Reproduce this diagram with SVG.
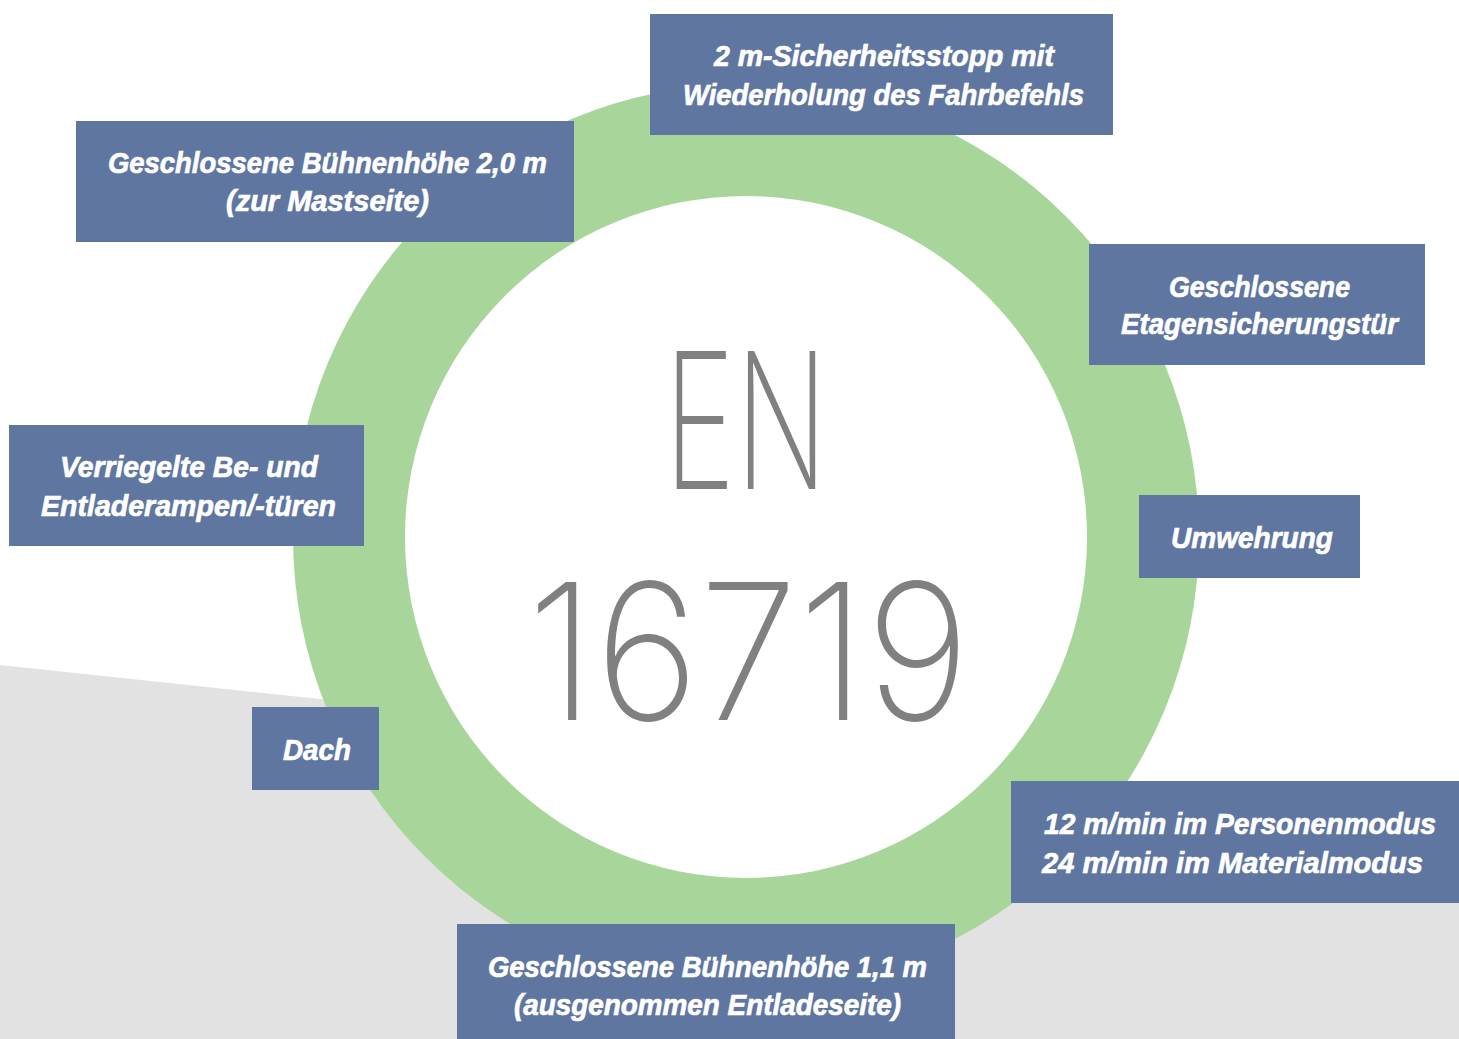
<svg xmlns="http://www.w3.org/2000/svg" width="1459" height="1039" viewBox="0 0 1459 1039">
<style>
.box{fill:#5f76a1}
.lbl{fill:#ffffff;stroke:#ffffff;stroke-width:0.7px;font-family:"Liberation Sans",Arial,sans-serif;font-weight:bold;font-style:italic;font-size:30px;text-anchor:start}
.big{fill:#808080;font-family:Inter,Roboto,"Liberation Sans",sans-serif;font-weight:250;font-size:190px}
</style>
<rect x="0" y="0" width="1459" height="1039" fill="#ffffff"/>
<polygon points="0,665 1459,820 1459,1039 0,1039" fill="#e2e2e2"/>
<g id="ring">
<circle cx="746" cy="537" r="453" fill="#a8d59a"/>
<circle cx="746" cy="537" r="341" fill="#ffffff"/>
<text class="big" x="664" y="489" textLength="164" lengthAdjust="spacingAndGlyphs">EN</text>
<text class="big" x="527" y="720" textLength="443" lengthAdjust="spacingAndGlyphs">16719</text>
</g>
<g id="connectors"></g>
<g id="n1"><rect class="box" x="650" y="14" width="463" height="121"/>
<text class="lbl" x="714" y="66" textLength="340" lengthAdjust="spacingAndGlyphs">2 m-Sicherheitsstopp mit</text>
<text class="lbl" x="683" y="105" textLength="401" lengthAdjust="spacingAndGlyphs">Wiederholung des Fahrbefehls</text></g>
<g id="n2"><rect class="box" x="76" y="121" width="498" height="121"/>
<text class="lbl" x="108" y="173" textLength="439" lengthAdjust="spacingAndGlyphs">Geschlossene Bühnenhöhe 2,0 m</text>
<text class="lbl" x="226" y="211" textLength="203" lengthAdjust="spacingAndGlyphs">(zur Mastseite)</text></g>
<g id="n3"><rect class="box" x="1089" y="244" width="336" height="121"/>
<text class="lbl" x="1169" y="297" textLength="181" lengthAdjust="spacingAndGlyphs">Geschlossene</text>
<text class="lbl" x="1121" y="334" textLength="277" lengthAdjust="spacingAndGlyphs">Etagensicherungstür</text></g>
<g id="n4"><rect class="box" x="9" y="425" width="355" height="121"/>
<text class="lbl" x="60" y="477" textLength="258" lengthAdjust="spacingAndGlyphs">Verriegelte Be- und</text>
<text class="lbl" x="41" y="516" textLength="295" lengthAdjust="spacingAndGlyphs">Entladerampen/-türen</text></g>
<g id="n5"><rect class="box" x="1139" y="495" width="221" height="83"/>
<text class="lbl" x="1171" y="548" textLength="162" lengthAdjust="spacingAndGlyphs">Umwehrung</text></g>
<g id="n6"><rect class="box" x="252" y="707" width="127" height="83"/>
<text class="lbl" x="283" y="760" textLength="68" lengthAdjust="spacingAndGlyphs">Dach</text></g>
<g id="n7"><rect class="box" x="1011" y="781" width="448" height="122"/>
<text class="lbl" x="1044" y="834" textLength="392" lengthAdjust="spacingAndGlyphs">12 m/min im Personenmodus</text>
<text class="lbl" x="1042" y="873" textLength="381" lengthAdjust="spacingAndGlyphs">24 m/min im Materialmodus</text></g>
<g id="n8"><rect class="box" x="457" y="924" width="498" height="115"/>
<text class="lbl" x="488" y="977" textLength="439" lengthAdjust="spacingAndGlyphs">Geschlossene Bühnenhöhe 1,1 m</text>
<text class="lbl" x="514" y="1015" textLength="387" lengthAdjust="spacingAndGlyphs">(ausgenommen Entladeseite)</text></g>
</svg>
